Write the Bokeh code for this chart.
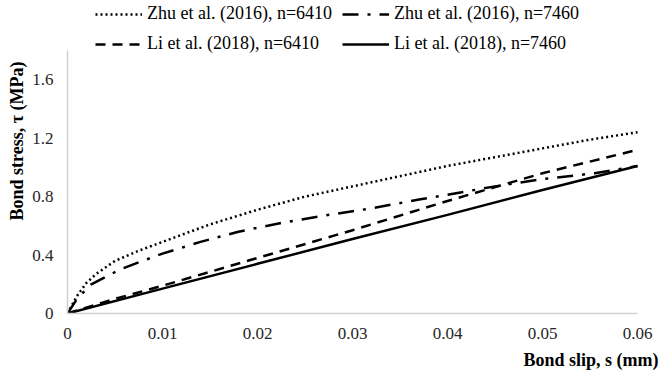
from bokeh.plotting import figure
from bokeh.models import Range1d, FixedTicker, Legend, LegendItem, Title
from bokeh.core.properties import value
from bokeh.embed import file_html
from bokeh.resources import INLINE

# ---- data ----
s_zhu6410 = [0, 0.001, 0.002, 0.003, 0.005, 0.0075, 0.01, 0.015, 0.02, 0.025,
             0.03, 0.035, 0.04, 0.045, 0.05, 0.055, 0.06]
tau_zhu6410 = [0, 0.12, 0.21, 0.27, 0.36, 0.43, 0.49, 0.61, 0.71, 0.80,
               0.87, 0.94, 1.01, 1.07, 1.13, 1.19, 1.24]

s_zhu7460 = [0, 0.001, 0.0025, 0.004, 0.0055, 0.0075, 0.01, 0.014, 0.018, 0.0225,
             0.027, 0.032, 0.037, 0.0415, 0.045, 0.05, 0.0555, 0.06]
tau_zhu7460 = [0, 0.10, 0.20, 0.25, 0.30, 0.35, 0.41, 0.49, 0.56, 0.62,
               0.67, 0.72, 0.78, 0.83, 0.87, 0.92, 0.96, 1.01]

s_li6410 = [0, 0.005, 0.01, 0.02, 0.03, 0.04, 0.05, 0.06]
tau_li6410 = [0, 0.10, 0.19, 0.38, 0.57, 0.77, 0.96, 1.12]

s_li7460 = [0, 0.01, 0.02, 0.03, 0.04, 0.05, 0.06]
tau_li7460 = [0, 0.17, 0.34, 0.51, 0.675, 0.845, 1.01]

x_ticks = [0, 0.01, 0.02, 0.03, 0.04, 0.05, 0.06]
x_tick_labels = ["0", "0.01", "0.02", "0.03", "0.04", "0.05", "0.06"]
y_ticks = [0, 0.4, 0.8, 1.2, 1.6]
y_tick_labels = ["0", "0.4", "0.8", "1.2", "1.6"]
x_axis_extent = (0, 0.06)
y_axis_extent = (0, 1.8)

series_labels = ["Zhu et al. (2016), n=6410", "Zhu et al. (2016), n=7460",
                 "Li et al. (2018), n=6410", "Li et al. (2018), n=7460"]
x_title = "Bond slip, s (mm)"
y_title = "Bond stress, τ (MPa)"

FONT = "Liberation Serif, serif"

# frame spans to the top/right canvas edge so the legend (which overlaps the
# top of the axes box in the reference) is not clipped; axis lines use bounds
p = figure(width=660, height=375, output_backend="svg", toolbar_location=None,
           x_range=Range1d(0, 0.06 * 593 / 570), y_range=Range1d(0, 1.8 * 313 / 263),
           min_border_left=67, min_border_right=0, min_border_top=0,
           min_border_bottom=62)
p.outline_line_color = None
p.xgrid.visible = False
p.ygrid.visible = False
p.background_fill_color = "white"

for ax, ticks, labels, ext in ((p.xaxis[0], x_ticks, x_tick_labels, x_axis_extent),
                               (p.yaxis[0], y_ticks, y_tick_labels, y_axis_extent)):
    ax.ticker = FixedTicker(ticks=ticks)
    ax.bounds = ext
    ax.major_label_overrides = {t: l for t, l in zip(ticks, labels)}
    ax.major_tick_line_color = None
    ax.minor_tick_line_color = None
    ax.major_tick_out = 0
    ax.minor_tick_out = 0
    ax.axis_line_color = "#d0d0d0"
    ax.axis_line_width = 1.5
    ax.major_label_text_font = FONT
    ax.major_label_text_font_size = "17px"
    ax.major_label_text_color = "#262626"
p.xaxis.major_label_standoff = 14
p.yaxis.major_label_standoff = 14

r1 = p.line(s_zhu6410, tau_zhu6410, line_color="black", line_width=2.5, line_dash="2 3")
r2 = p.line(s_zhu7460, tau_zhu7460, line_color="black", line_width=2.5, line_dash="16 9 3 9")
r3 = p.line(s_li6410, tau_li6410, line_color="black", line_width=2.5, line_dash="10 7")
r4 = p.line(s_li7460, tau_li7460, line_color="black", line_width=2.5)

legend_pos = [(28, 289), (275, 289), (28, 259), (275, 259)]
for r, lab, loc in zip([r1, r2, r3, r4], series_labels, legend_pos):
    leg = Legend(items=[LegendItem(label=value(lab), renderers=[r])], location=loc,
                 padding=0, margin=0, spacing=0, border_line_alpha=0,
                 background_fill_alpha=0, glyph_width=47, glyph_height=18,
                 label_height=18, label_standoff=5, label_text_font=FONT,
                 label_text_font_size="18px", label_text_color="black")
    p.add_layout(leg)

# axis titles
p.add_layout(Title(text=x_title, align="right", offset=2, standoff=12,
                   text_font=FONT, text_font_size="18px", text_font_style="bold",
                   text_color="black"), "below")
p.add_layout(Title(text=y_title, align="right", offset=61, standoff=6,
                   text_font=FONT, text_font_size="18px", text_font_style="bold",
                   text_color="black"), "left")

open("out.html", "w").write(file_html(p, INLINE))
